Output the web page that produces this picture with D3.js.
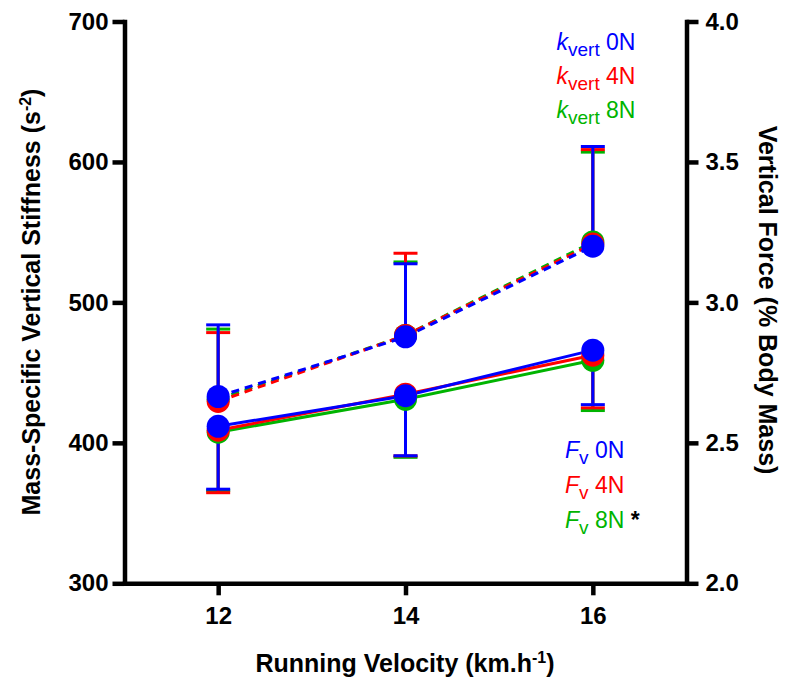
<!DOCTYPE html>
<html>
<head>
<meta charset="utf-8">
<script src="https://cdn.jsdelivr.net/npm/d3@7"></script>
<style>
  html, body { margin: 0; padding: 0; background: #fff; }
  svg { display: block; }
  text { font-family: "Liberation Sans", Arial, Helvetica, sans-serif; }
</style>
</head>
<body>
<svg id="chart" width="786" height="680"></svg>
<script>
// Running velocities (km.h-1)
const velocities = [12, 14, 16];
const loadLabels = ["0N", "4N", "8N"];
const loadColors = ["#0000ff", "#ff0000", "#00b400"];

// Mass-specific vertical stiffness, mean and SD (s-2), left axis
const kvert0N = [433, 475.5, 540];
const kvert4N = [429.5, 476.5, 541.5];
const kvert8N = [431, 476.5, 543];
const kvertSD0N = [51, 52, 71];
const kvertSD4N = [49, 58.5, 67.3];
const kvertSD8N = [50, 52.3, 64];

// Vertical force, mean and SD (% body mass), right axis
const fv0N = [2.559, 2.668, 2.830];
const fv4N = [2.545, 2.673, 2.812];
const fv8N = [2.538, 2.655, 2.794];
const fvSD0N = [0.224, 0.214, 0.194];
const fvSD4N = [0.2225, 0.2195, 0.1875];
const fvSD8N = [0.208, 0.2065, 0.179];

// Tick values
const xTicks = [12, 14, 16];
const leftTicks = [300, 400, 500, 600, 700];
const rightTicks = [2.0, 2.5, 3.0, 3.5, 4.0];

const kSeries = [
  { load: "0N", mean: kvert0N, sd: kvertSD0N, color: loadColors[0] },
  { load: "4N", mean: kvert4N, sd: kvertSD4N, color: loadColors[1] },
  { load: "8N", mean: kvert8N, sd: kvertSD8N, color: loadColors[2] }
];
const fSeries = [
  { load: "0N", mean: fv0N, sd: fvSD0N, color: loadColors[0] },
  { load: "4N", mean: fv4N, sd: fvSD4N, color: loadColors[1] },
  { load: "8N", mean: fv8N, sd: fvSD8N, color: loadColors[2] }
];

const svg = d3.select("#chart");
const plotLeft = 124.5, plotRight = 686.5, plotTop = 21.5, plotBottom = 583.3;

const x = d3.scaleLinear().domain([11, 17]).range([plotLeft, plotRight]);
const yL = d3.scaleLinear().domain([300, 700]).range([plotBottom, plotTop]);
const yR = d3.scaleLinear().domain([2.0, 4.0]).range([plotBottom, plotTop]);

const axisW = 4.5;
const tickFont = "bold 24px 'Liberation Sans', Arial, sans-serif";

function styleAxis(g) {
  g.select(".domain").attr("stroke-width", axisW).attr("stroke-linecap", "square").attr("stroke", "#000");
  g.selectAll(".tick line").attr("stroke-width", axisW).attr("stroke", "#000");
  g.selectAll(".tick text").style("font", tickFont).attr("fill", "#000");
}

svg.append("g")
  .attr("transform", `translate(${plotLeft},0)`)
  .call(d3.axisLeft(yL).tickValues(leftTicks).tickSize(12).tickSizeOuter(0).tickPadding(4).tickFormat(d3.format("d")))
  .call(styleAxis);

svg.append("g")
  .attr("transform", `translate(${plotRight},0)`)
  .call(d3.axisRight(yR).tickValues(rightTicks).tickSize(12).tickSizeOuter(0).tickPadding(7).tickFormat(d3.format(".1f")))
  .call(styleAxis);

svg.append("g")
  .attr("transform", `translate(0,${plotBottom})`)
  .call(d3.axisBottom(x).tickValues(xTicks).tickSize(12).tickSizeOuter(0).tickPadding(11.5).tickFormat(d3.format("d")))
  .call(styleAxis);

// Axis titles
const titleFont = "bold 25px 'Liberation Sans', Arial, sans-serif";
const lt = svg.append("text")
  .attr("transform", `translate(40,302) rotate(-90)`)
  .attr("text-anchor", "middle").style("font", titleFont);
lt.append("tspan").text("Mass-Specific Vertical Stiffness (s");
lt.append("tspan").attr("dy", -9).style("font-size", "16px").text("-2");
lt.append("tspan").attr("dy", 9).text(")");

svg.append("text")
  .attr("transform", `translate(759,300) rotate(90)`)
  .attr("text-anchor", "middle").style("font", titleFont)
  .text("Vertical Force (% Body Mass)");

const xt = svg.append("text")
  .attr("x", 405).attr("y", 672)
  .attr("text-anchor", "middle").style("font", titleFont);
xt.append("tspan").text("Running Velocity (km.h");
xt.append("tspan").attr("dy", -9).style("font-size", "16px").text("-1");
xt.append("tspan").attr("dy", 9).text(")");

const plot = svg.append("g");
const r = 11.5;
const lineW = 3;
const capHalf = 12;

// Error bars: stiffness upward, vertical force downward
function drawErrorBars(series, scale, dir) {
  series.slice().reverse().forEach(s => {
    const g = plot.append("g");
    velocities.forEach((v, i) => {
      const y0 = scale(s.mean[i]);
      const y1 = scale(s.mean[i] + dir * s.sd[i]);
      g.append("line").attr("x1", x(v)).attr("x2", x(v)).attr("y1", y0).attr("y2", y1)
        .attr("stroke", s.color).attr("stroke-width", lineW);
      g.append("line").attr("x1", x(v) - capHalf).attr("x2", x(v) + capHalf).attr("y1", y1).attr("y2", y1)
        .attr("stroke", s.color).attr("stroke-width", lineW);
    });
  });
}
drawErrorBars(kSeries, yL, 1);
drawErrorBars(fSeries, yR, -1);

function drawSeries(series, scale, dashed) {
  const line = d3.line().x((d, i) => x(velocities[i])).y(d => scale(d));
  series.slice().reverse().forEach(s => {
    plot.append("path").datum(s.mean)
      .attr("d", line)
      .attr("fill", "none")
      .attr("stroke", s.color)
      .attr("stroke-width", lineW)
      .attr("stroke-dasharray", dashed ? "8,6" : null);
  });
  series.slice().reverse().forEach(s => {
    plot.append("g").selectAll("circle").data(s.mean).join("circle")
      .attr("cx", (d, i) => x(velocities[i]))
      .attr("cy", d => scale(d))
      .attr("r", r)
      .attr("fill", s.color);
  });
}
drawSeries(fSeries, yR, false);
drawSeries(kSeries, yL, true);

// Legends
const legFont = "23px 'Liberation Sans', Arial, sans-serif";
const kBase = [50, 84, 118];
kSeries.forEach((s, i) => {
  const t = svg.append("text").attr("x", 556.5).attr("y", kBase[i]).style("font", legFont).attr("fill", s.color);
  t.append("tspan").style("font-style", "italic").text("k");
  t.append("tspan").attr("dy", 6).style("font-size", "19px").text("vert");
  t.append("tspan").attr("dy", -6).text(" " + loadLabels[i]);
});
const fBase = [458, 493, 528];
fSeries.forEach((s, i) => {
  const t = svg.append("text").attr("x", 565).attr("y", fBase[i]).style("font", legFont).attr("fill", s.color);
  t.append("tspan").style("font-style", "italic").text("F");
  t.append("tspan").attr("dy", 6).style("font-size", "19px").text("v");
  t.append("tspan").attr("dy", -6).text(" " + loadLabels[i]);
  if (s.load === "8N") {
    t.append("tspan").attr("fill", "#000").style("font-weight", "bold").text(" *");
  }
});
</script>
</body>
</html>
